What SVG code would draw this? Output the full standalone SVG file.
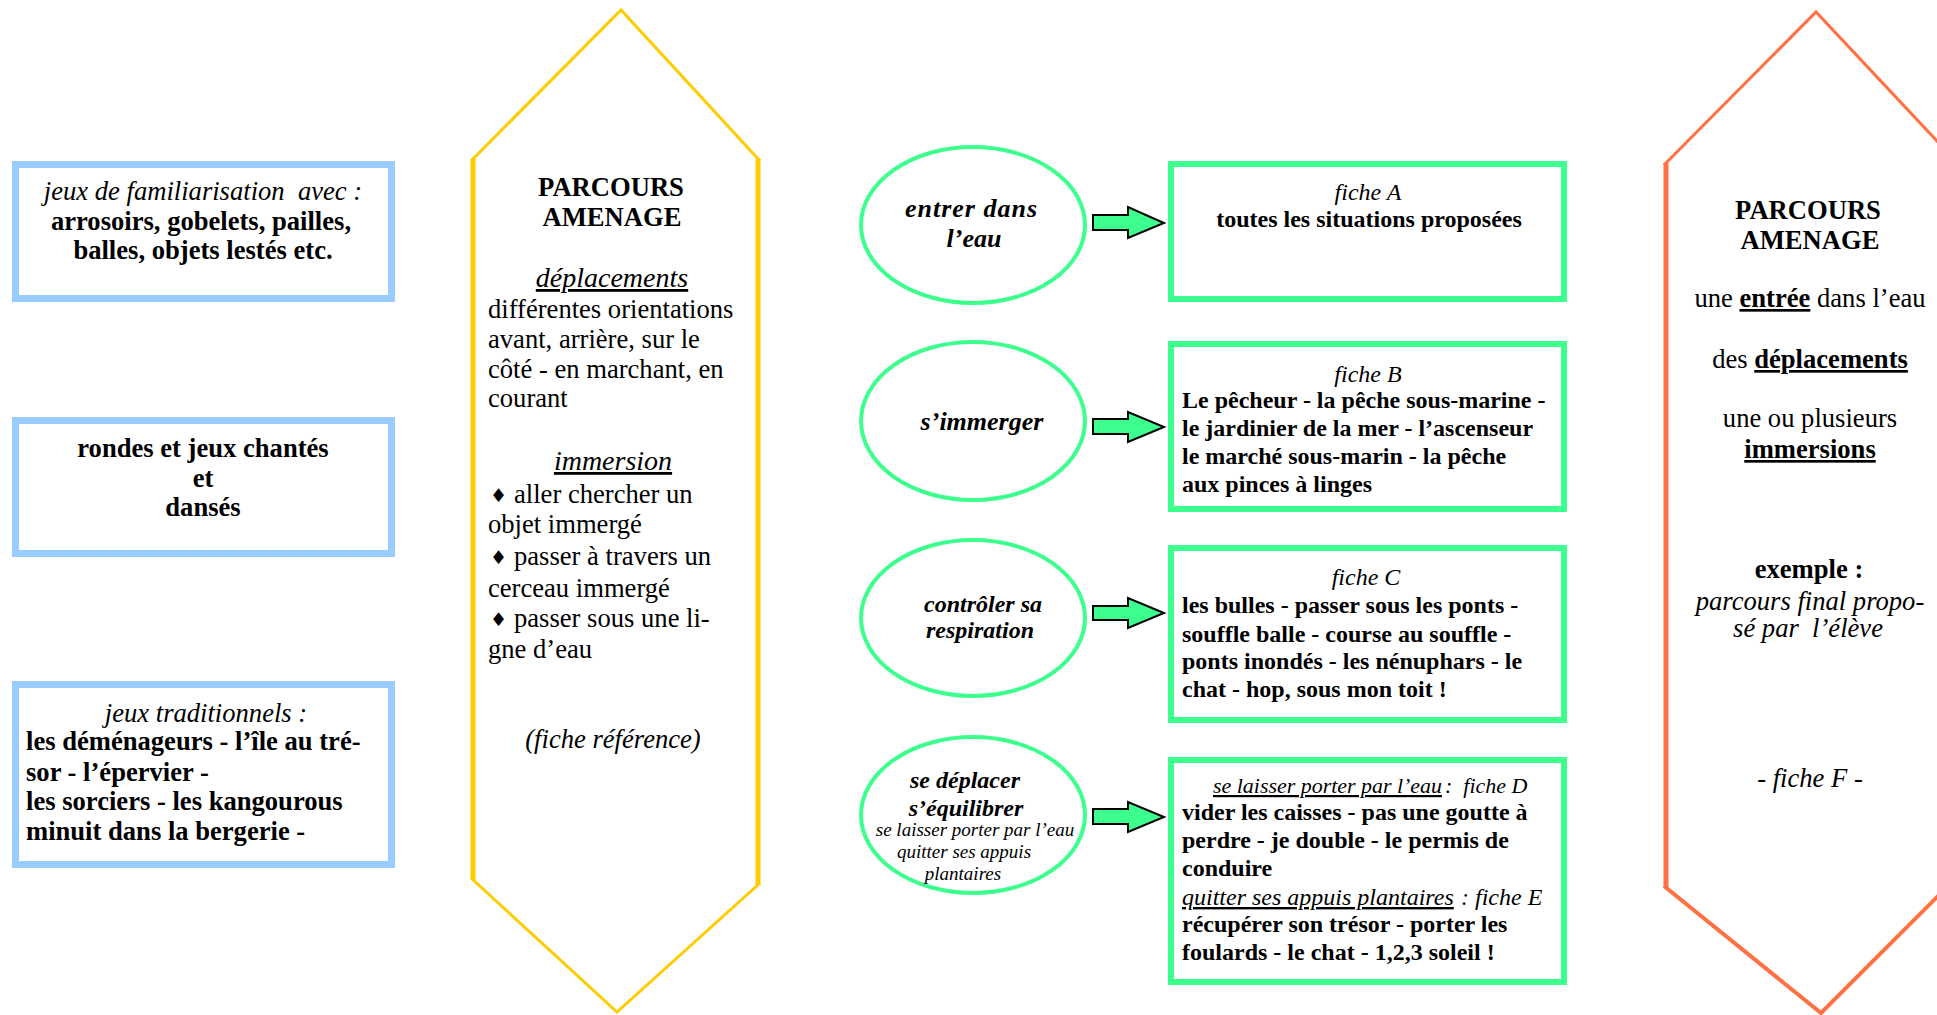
<svg xmlns="http://www.w3.org/2000/svg" width="1937" height="1015" viewBox="0 0 1937 1015">
<style>
text{font-family:"Liberation Serif","Times New Roman",serif;fill:#000}
.b{font-weight:bold}
.i{font-style:italic}
.u{text-decoration:underline}
.m{text-anchor:middle}
.t26{font-size:26.6px}
.t28{font-size:28px}
.g22{font-size:22px}
.g24{font-size:24px}
.g26{font-size:26px}
.g19{font-size:19px}
.dia{font-family:"DejaVu Sans",sans-serif;font-size:19px}
.blue{fill:#fff;stroke:#99CCFF;stroke-width:7}
.grect{fill:#fff;stroke:#3CFF8E;stroke-width:6}
.gcirc{fill:#fff;stroke:#3CFF8E;stroke-width:4}
.arrow{fill:#3CFF8E;stroke:#000;stroke-width:2;stroke-linejoin:miter}
</style>
<rect width="1937" height="1015" fill="#fff"/>

<!-- Left blue boxes -->
<g id="box-familiarisation">
<rect class="blue" x="15.5" y="164.5" width="376" height="134"/>
<text class="i t26 m" x="203" y="200" xml:space="preserve">jeux de familiarisation  avec :</text>
<text class="b t26 m" x="201" y="230">arrosoirs, gobelets, pailles,</text>
<text class="b t26 m" x="203" y="259">balles, objets lestés etc.</text>
</g>
<g id="box-rondes">
<rect class="blue" x="15.5" y="420.5" width="376" height="133"/>
<text class="b t26 m" x="203" y="457">rondes et jeux chantés</text>
<text class="b t26 m" x="203" y="487">et</text>
<text class="b t26 m" x="203" y="516">dansés</text>
</g>
<g id="box-traditionnels">
<rect class="blue" x="15.5" y="684.5" width="376" height="180"/>
<text class="i t26 m" x="206" y="722">jeux traditionnels :</text>
<text class="b t26" x="26" y="750">les déménageurs - l’île au tré-</text>
<text class="b t26" x="26" y="781">sor - l’épervier -</text>
<text class="b t26" x="26" y="810">les sorciers - les kangourous</text>
<text class="b t26" x="26" y="840">minuit dans la bergerie -</text>
</g>

<!-- Yellow hexagon -->
<g id="parcours-reference">
<polygon points="473,159 621,10 758,159 758,885 617,1012 473,880" fill="#fff" stroke="none"/>
<polyline points="471,161 621,10 760,161" fill="none" stroke="#FFCC00" stroke-width="3"/>
<polyline points="471,878 617,1012 760,883" fill="none" stroke="#FFCC00" stroke-width="3"/>
<line x1="473" y1="159" x2="473" y2="880" stroke="#FFCC00" stroke-width="5"/>
<line x1="758" y1="159" x2="758" y2="885" stroke="#FFCC00" stroke-width="5"/>
<text class="b t26 m" x="611" y="196">PARCOURS</text>
<text class="b t26 m" x="612" y="226">AMENAGE</text>
<text class="i t28 m u" x="612" y="287">déplacements</text>
<text class="t26" x="488" y="318">différentes orientations</text>
<text class="t26" x="488" y="348">avant, arrière, sur le</text>
<text class="t26" x="488" y="378">côté - en marchant, en</text>
<text class="t26" x="488" y="407">courant</text>
<text class="i t28 m u" x="613" y="470">immersion</text>
<text class="dia" x="490" y="502">♦</text>
<text class="t26" x="514" y="503">aller chercher un</text>
<text class="t26" x="488" y="533">objet immergé</text>
<text class="dia" x="490" y="564">♦</text>
<text class="t26" x="514" y="565">passer à travers un</text>
<text class="t26" x="488" y="597">cerceau immergé</text>
<text class="dia" x="490" y="626">♦</text>
<text class="t26" x="514" y="627">passer sous une li-</text>
<text class="t26" x="488" y="658">gne d’eau</text>
<text class="i t26 m" x="613" y="748">(fiche référence)</text>
</g>

<!-- Green circles -->
<g id="circle-entrer">
<ellipse class="gcirc" cx="973" cy="225" rx="112" ry="78"/>
<text class="b i g26 m" x="971" y="217" textLength="132" lengthAdjust="spacing">entrer dans</text>
<text class="b i g26 m" x="974" y="247">l’eau</text>
</g>
<g id="circle-immerger">
<ellipse class="gcirc" cx="973" cy="421" rx="112" ry="79"/>
<text class="b i g26 m" x="982" y="430">s’immerger</text>
</g>
<g id="circle-respiration">
<ellipse class="gcirc" cx="973" cy="618" rx="112" ry="78"/>
<text class="b i g24 m" x="983" y="612">contrôler sa</text>
<text class="b i g24 m" x="980" y="638">respiration</text>
</g>
<g id="circle-deplacer">
<ellipse class="gcirc" cx="973" cy="815" rx="112" ry="78"/>
<text class="b i g24 m" x="965" y="788">se déplacer</text>
<text class="b i g24 m" x="966" y="816">s’équilibrer</text>
<text class="i g19 m" x="975" y="836">se laisser porter par l’eau</text>
<text class="i g19 m" x="964" y="858">quitter ses appuis</text>
<text class="i g19 m" x="963" y="880">plantaires</text>
</g>

<!-- Connectors -->
<g id="connectors">
<polygon class="arrow" points="1093,215 1128,215 1128,207 1164,223 1128,238 1128,230 1093,230"/>
<polygon class="arrow" points="1093,419 1128,419 1128,412 1164,427 1128,442 1128,434 1093,434"/>
<polygon class="arrow" points="1093,606 1128,606 1128,598 1164,613 1128,628 1128,620 1093,620"/>
<polygon class="arrow" points="1093,809 1128,809 1128,802 1164,817 1128,832 1128,824 1093,824"/>
</g>

<!-- Green boxes -->
<g id="fiche-a">
<rect class="grect" x="1171" y="164" width="393" height="135"/>
<text class="i g24 m" x="1368" y="200">fiche A</text>
<text class="b g24 m" x="1369" y="227">toutes les situations proposées</text>
</g>
<g id="fiche-b">
<rect class="grect" x="1171" y="344" width="393" height="165"/>
<text class="i g24 m" x="1368" y="382">fiche B</text>
<text class="b g24" x="1182" y="408">Le pêcheur - la pêche sous-marine -</text>
<text class="b g24" x="1182" y="436">le jardinier de la mer - l’ascenseur</text>
<text class="b g24" x="1182" y="464">le marché sous-marin - la pêche</text>
<text class="b g24" x="1182" y="492">aux pinces à linges</text>
</g>
<g id="fiche-c">
<rect class="grect" x="1171" y="548" width="393" height="172"/>
<text class="i g24 m" x="1366" y="585">fiche C</text>
<text class="b g24" x="1182" y="613">les bulles - passer sous les ponts -</text>
<text class="b g24" x="1182" y="642">souffle balle - course au souffle -</text>
<text class="b g24" x="1182" y="669">ponts inondés - les nénuphars - le</text>
<text class="b g24" x="1182" y="697">chat - hop, sous mon toit !</text>
</g>
<g id="fiche-d-e">
<rect class="grect" x="1171" y="760" width="393" height="222"/>
<text class="i g22 u" x="1213" y="793" textLength="229" lengthAdjust="spacingAndGlyphs">se laisser porter par l’eau</text>
<text class="i g22" x="1445" y="793" xml:space="preserve">:  fiche D</text>
<text class="b g24" x="1182" y="820">vider les caisses - pas une goutte à</text>
<text class="b g24" x="1182" y="848">perdre - je double - le permis de</text>
<text class="b g24" x="1182" y="876">conduire</text>
<text class="i g24 u" x="1182" y="905">quitter ses appuis plantaires</text>
<text class="i g24" x="1461" y="905">: fiche E</text>
<text class="b g24" x="1182" y="932">récupérer son trésor - porter les</text>
<text class="b g24" x="1182" y="960">foulards - le chat - 1,2,3 soleil !</text>
</g>

<!-- Orange hexagon -->
<g id="parcours-final">
<polygon points="1666,163 1816,12 1966,172 1966,868 1821,1013 1666,888" fill="#fff" stroke="none"/>
<polyline points="1664,165 1816,12 1966,172" fill="none" stroke="#FF7043" stroke-width="3"/>
<polyline points="1664,886 1821,1013 1966,868" fill="none" stroke="#FF7043" stroke-width="4"/>
<line x1="1666" y1="163" x2="1666" y2="888" stroke="#FF7043" stroke-width="5"/>
<text class="b t26 m" x="1808" y="219">PARCOURS</text>
<text class="b t26 m" x="1810" y="249">AMENAGE</text>
<text class="t26 m" x="1810" y="307">une <tspan class="b u">entrée</tspan> dans l’eau</text>
<text class="t26 m" x="1810" y="368">des <tspan class="b u">déplacements</tspan></text>
<text class="t26 m" x="1810" y="427">une ou plusieurs</text>
<text class="b t26 m u" x="1810" y="458">immersions</text>
<text class="b t26 m" x="1809" y="578">exemple :</text>
<text class="i t26 m" x="1810" y="610">parcours final propo-</text>
<text class="i t26 m" x="1808" y="637" xml:space="preserve">sé par  l’élève</text>
<text class="i t26 m" x="1810" y="787">- fiche F -</text>
</g>
</svg>
